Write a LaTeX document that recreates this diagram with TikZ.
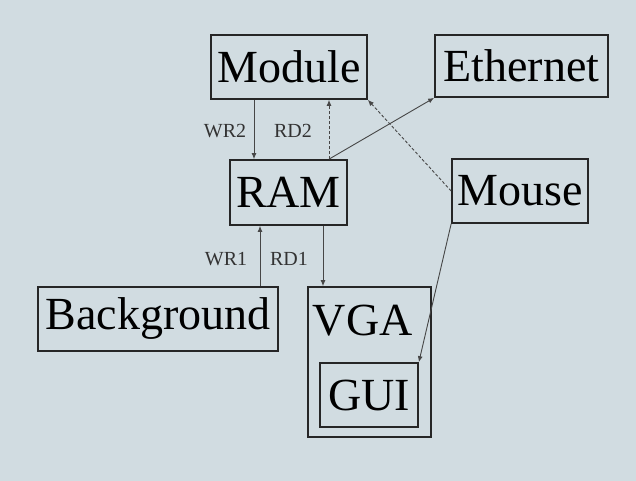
\documentclass[tikz,border=0pt]{standalone}
\usepackage{fontspec}
\setmainfont{Liberation Serif}
\usepackage{tikz}
\usetikzlibrary{arrows.meta,calc,positioning}
\usepackage{xcolor}
\definecolor{bgblue}{RGB}{209,220,225}
\definecolor{wire}{RGB}{70,70,70}

\begin{document}
\begin{tikzpicture}[
    x=1pt,y=-1pt,
    blk/.style={draw=black!85,line width=1.7pt,inner sep=0pt,font=\fontsize{46}{50}\selectfont},
    lbl/.style={font=\fontsize{20}{22}\selectfont,text=black!80,inner sep=0pt},
    w/.style={-{Latex[length=6pt,width=5pt]},line width=.9pt,wire},
    wd/.style={w,dashed,dash pattern=on 3pt off 2pt}
  ]
    \fill[bgblue] (0,0) rectangle (636,481);
    \useasboundingbox (0,0) rectangle (636,481);
    \node[blk,minimum width=156,minimum height=64] (module) at (289,67) {Module};
    \node[blk,minimum width=173,minimum height=62] (eth) at (521.5,66) {Ethernet};
    \node[blk,minimum width=117,minimum height=65] (ram) at (288.5,192.5) {RAM};
    \node[blk,minimum width=136,minimum height=64] (mouse) at (520,191) {Mouse};
    \node[blk,minimum width=240,minimum height=64] (bg) at (158,319) {Background};
    \node[blk,minimum width=123,minimum height=150] (vga) at (369.5,362) {};
    \node[blk,anchor=base west,draw=none] (vgatxt) at (312,335) {VGA};
    \node[blk,minimum width=98,minimum height=64] (gui) at (369,395) {GUI};
    % module <-> ram
    \draw[w] ([xshift=-35pt]module.south) -- ([xshift=-35pt]module.south |- ram.north);
    \draw[wd] ([xshift=40.5pt]ram.north) -- ([xshift=40.5pt]ram.north |- module.south);
    \draw[w] ([xshift=40.5pt]ram.north) -- (eth.south west);
    \draw[wd] (mouse.west) -- (module.south east);
    \draw[w] (mouse.south west) -- (gui.north east);
    % background / vga <-> ram
    \draw[w] ([xshift=102pt]bg.north) -- ([xshift=102pt]bg.north |- ram.south);
    \draw[w] ([xshift=34.5pt]ram.south) -- ([xshift=34.5pt]ram.south |- vga.north);
    \node[lbl] (wr2) at (225,131) {WR2};
    \node[lbl] (rd2) at (293,131) {RD2};
    \node[lbl] (wr1) at (226,259) {WR1};
    \node[lbl] (rd1) at (289,259) {RD1};
  \end{tikzpicture}
\end{document}
